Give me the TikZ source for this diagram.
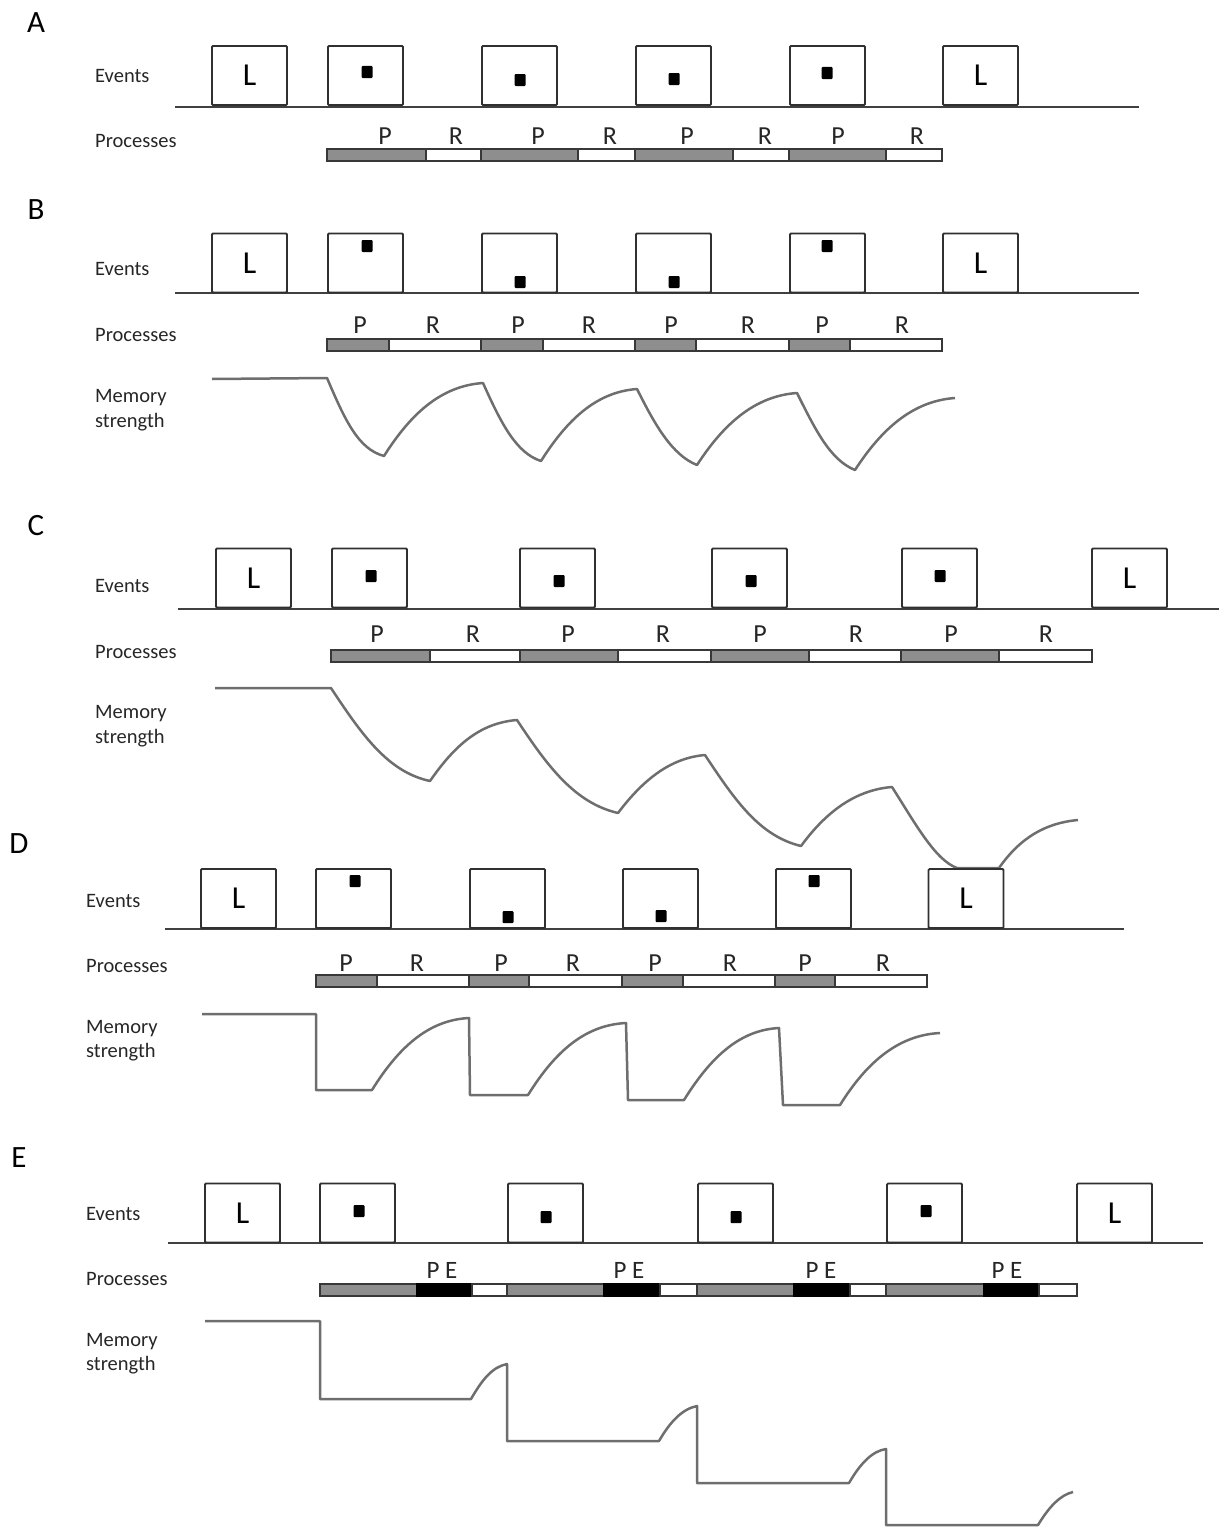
\documentclass[tikz,border=0pt]{standalone}
\usepackage{fontspec}
\setmainfont{Carlito}
\definecolor{boxc}{HTML}{303030}
\definecolor{linec}{HTML}{404040}
\definecolor{barc}{HTML}{383838}
\definecolor{pgray}{HTML}{8E8E8E}
\definecolor{curvec}{HTML}{6E6E6E}
\definecolor{labc}{HTML}{262626}
\begin{document}
\begin{tikzpicture}[x=1pt,y=-1pt,
  evbox/.style={draw=boxc,line width=1.8pt,fill=white,minimum width=75pt,minimum height=59pt,inner sep=0pt,rounded corners=1pt,font=\fontsize{32}{32}\selectfont},
  dotsq/.style={fill=black,minimum width=11pt,minimum height=12pt,inner sep=0pt,rounded corners=1pt},
  rowlab/.style={anchor=base west,inner sep=0pt,font=\fontsize{20.5}{24}\selectfont,text=labc},
  panlab/.style={anchor=base,inner sep=0pt,font=\fontsize{31}{31}\selectfont},
  prlab/.style={anchor=base,inner sep=0pt,font=\fontsize{26}{26}\selectfont,text=labc},
  axisline/.style={draw=linec,line width=1.8pt},
  seggray/.style={fill=pgray,draw=barc,line width=1.5pt},
  segwhite/.style={fill=white,draw=barc,line width=1.5pt},
  segblack/.style={fill=black,draw=black,line width=1.5pt},
  memcurve/.style={draw=curvec,line width=2.5pt,line join=round}
]
\useasboundingbox (0,0) rectangle (1219,1528);

% ================= Panel A =================
\node[panlab] (labA) at (36,33) {A};
\node[rowlab] (evA) at (95,82) {Events};
\node[rowlab] (prA) at (95,147) {Processes};
\coordinate (blA1) at (175,107); \coordinate (blA2) at (1139,107);
\draw[axisline] (blA1) -- (blA2);
\node[evbox] (A1) at (249.5,75.5) {L};
\foreach \n/\x in {2/327,3/481,4/635,5/789} \node[evbox] (A\n) at (\x+38.5,75.5) {};
\node[evbox] (A6) at (980.5,75.5) {L};
\foreach \n/\x/\y in {2/367/72,3/520/80,4/674/79,5/827/73} \node[dotsq] (Ad\n) at (\x,\y) {};
\foreach \a/\b in {327/426,481/578,635/733,789/886} \draw[seggray] (\a,149) rectangle (\b,161);
\foreach \a/\b in {426/481,578/635,733/789,886/942} \draw[segwhite] (\a,149) rectangle (\b,161);
\foreach \n/\x in {1/385,2/538,3/687,4/838} \node[prlab] (AP\n) at (\x,144) {P};
\foreach \n/\x in {1/456,2/610,3/765,4/917} \node[prlab] (AR\n) at (\x,144) {R};

% ================= Panel B =================
\node[panlab] (labB) at (36,219) {B};
\node[rowlab] (evB) at (95,275) {Events};
\node[rowlab] (prB) at (95,341) {Processes};
\node[rowlab] (mmB) at (95,402) {Memory};
\node[rowlab] (stB) at (95,427) {strength};
\coordinate (blB1) at (175,293); \coordinate (blB2) at (1139,293);
\draw[axisline] (blB1) -- (blB2);
\node[evbox] (B1) at (249.5,263) {L};
\foreach \n/\x in {2/327,3/481,4/635,5/789} \node[evbox] (B\n) at (\x+38.5,263) {};
\node[evbox] (B6) at (980.5,263) {L};
\foreach \n/\x/\y in {2/367/246,3/520/282,4/674/282,5/827/246} \node[dotsq] (Bd\n) at (\x,\y) {};
\foreach \a/\b in {327/389,481/543,635/696,789/850} \draw[seggray] (\a,339) rectangle (\b,351);
\foreach \a/\b in {389/481,543/635,696/789,850/942} \draw[segwhite] (\a,339) rectangle (\b,351);
\foreach \n/\x in {1/360,2/518,3/671,4/822} \node[prlab] (BP\n) at (\x,333) {P};
\foreach \n/\x in {1/433,2/589,3/748,4/902} \node[prlab] (BR\n) at (\x,333) {R};
\draw[memcurve] (212,379) -- (327,378)
 .. controls (345,420) and (358,449) .. (384,456)
 .. controls (410,415) and (440,386) .. (483,383)
 .. controls (501,423) and (516,453) .. (541,461)
 .. controls (567,420) and (596,392) .. (637,389)
 .. controls (655,425) and (672,455) .. (697,465)
 .. controls (723,425) and (754,396) .. (797,393)
 .. controls (815,429) and (830,460) .. (855,470)
 .. controls (881,430) and (912,401) .. (955,398);

% ================= Panel C =================
\node[panlab] (labC) at (36,535) {C};
\node[rowlab] (evC) at (95,592) {Events};
\node[rowlab] (prC) at (95,658) {Processes};
\node[rowlab] (mmC) at (95,718) {Memory};
\node[rowlab] (stC) at (95,743) {strength};
\coordinate (blC1) at (178,609); \coordinate (blC2) at (1219,609);
\draw[axisline] (blC1) -- (blC2);
\node[evbox] (C1) at (253.5,578) {L};
\foreach \n/\x in {2/331,3/519,4/711,5/901} \node[evbox] (C\n) at (\x+38.5,578) {};
\node[evbox] (C6) at (1129.5,578) {L};
\foreach \n/\x/\y in {2/371/576,3/559/581,4/751/581,5/940/576} \node[dotsq] (Cd\n) at (\x,\y) {};
\foreach \a/\b in {331/430,520/618,711/809,901/999} \draw[seggray] (\a,650) rectangle (\b,662);
\foreach \a/\b in {430/520,618/711,809/901,999/1092} \draw[segwhite] (\a,650) rectangle (\b,662);
\foreach \n/\x in {1/377,2/568,3/760,4/951} \node[prlab] (CP\n) at (\x,642) {P};
\foreach \n/\x in {1/473,2/663,3/856,4/1046} \node[prlab] (CR\n) at (\x,642) {R};
\draw[memcurve] (215,688) -- (331,688)
 .. controls (362,735) and (388,772) .. (430,781)
 .. controls (455,745) and (480,723) .. (517,720)
 .. controls (548,767) and (575,803) .. (618,813)
 .. controls (643,780) and (670,758) .. (705,755)
 .. controls (736,802) and (760,836) .. (801,846)
 .. controls (826,812) and (855,790) .. (892,787)
 .. controls (915,823) and (935,860) .. (957,868)
 -- (999,868)
 .. controls (1020,838) and (1045,823) .. (1078,820);

% ================= Panel D =================
\node[panlab] (labD) at (19,853) {D};
\node[rowlab] (evD) at (86,907) {Events};
\node[rowlab] (prD) at (86,972) {Processes};
\node[rowlab] (mmD) at (86,1033) {Memory};
\node[rowlab] (stD) at (86,1057) {strength};
\coordinate (blD1) at (165,929); \coordinate (blD2) at (1124,929);
\draw[axisline] (blD1) -- (blD2);
\node[evbox] (D1) at (238.5,898.5) {L};
\foreach \n/\x in {2/315,3/469,4/622,5/775} \node[evbox] (D\n) at (\x+38.5,898.5) {};
\node[evbox] (D6) at (966,898.5) {L};
\foreach \n/\x/\y in {2/355/881,3/508/917,4/661/916,5/814/881} \node[dotsq] (Dd\n) at (\x,\y) {};
\foreach \a/\b in {316/377,469/529,622/683,775/835} \draw[seggray] (\a,975) rectangle (\b,987);
\foreach \a/\b in {377/469,529/622,683/775,835/927} \draw[segwhite] (\a,975) rectangle (\b,987);
\foreach \n/\x in {1/346,2/501,3/655,4/805} \node[prlab] (DP\n) at (\x,971) {P};
\foreach \n/\x in {1/417,2/573,3/730,4/883} \node[prlab] (DR\n) at (\x,971) {R};
\draw[memcurve] (202,1014) -- (316,1014) -- (316,1090) -- (372,1090)
 .. controls (400,1045) and (430,1020) .. (469,1018)
 -- (470,1095) -- (528,1095)
 .. controls (556,1050) and (586,1025) .. (626,1023)
 -- (628,1100) -- (684,1100)
 .. controls (712,1055) and (741,1030) .. (779,1028)
 -- (783,1105) -- (840,1105)
 .. controls (868,1060) and (900,1035) .. (940,1033);

% ================= Panel E =================
\node[panlab] (labE) at (19,1167) {E};
\node[rowlab] (evE) at (86,1220) {Events};
\node[rowlab] (prE) at (86,1285) {Processes};
\node[rowlab] (mmE) at (86,1346) {Memory};
\node[rowlab] (stE) at (86,1370) {strength};
\coordinate (blE1) at (168,1243); \coordinate (blE2) at (1203,1243);
\draw[axisline] (blE1) -- (blE2);
\node[evbox] (E1) at (242.5,1213) {L};
\foreach \n/\x in {2/319,3/507,4/697,5/886} \node[evbox] (E\n) at (\x+38.5,1213) {};
\node[evbox] (E6) at (1114.5,1213) {L};
\foreach \n/\x/\y in {2/359/1211,3/546/1217,4/736/1217,5/926/1211} \node[dotsq] (Ed\n) at (\x,\y) {};
\foreach \a/\b in {320/417,507/604,697/794,886/984} \draw[seggray] (\a,1284) rectangle (\b,1296);
\foreach \a/\b in {417/472,604/660,794/850,984/1039} \draw[segblack] (\a,1284) rectangle (\b,1296);
\foreach \a/\b in {472/507,660/697,850/886,1039/1077} \draw[segwhite] (\a,1284) rectangle (\b,1296);
\foreach \n/\x in {1/442,2/629,3/821,4/1007} \node[prlab,font=\fontsize{25}{25}\selectfont] (EPE\n) at (\x,1278) {P E};
\draw[memcurve] (205,1321) -- (320,1321) -- (320,1399) -- (471,1399)
 .. controls (482,1380) and (492,1367) .. (507,1364)
 -- (507,1441) -- (659,1441)
 .. controls (670,1422) and (682,1409) .. (697,1406)
 -- (697,1483) -- (849,1483)
 .. controls (860,1464) and (872,1451) .. (886,1449)
 -- (886,1525) -- (1038,1525)
 .. controls (1049,1507) and (1060,1495) .. (1073,1492);
\end{tikzpicture}
\end{document}
